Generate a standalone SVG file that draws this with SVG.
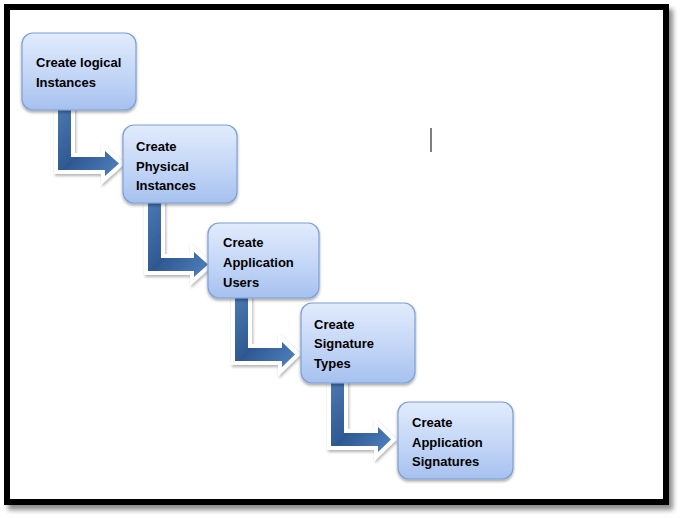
<svg xmlns="http://www.w3.org/2000/svg" width="682" height="518" viewBox="0 0 682 518">
<defs>
  <style>
    .node rect { fill: url(#nodeGrad); stroke: #7c9fd6; stroke-width: 1.2; filter: url(#nshadow); }
    .node text { font-family: "Liberation Sans", Arial, sans-serif; font-weight: bold; font-size: 13px; fill: #000; }
    .arrow { fill: url(#arrowGrad); stroke: #ffffff; stroke-width: 8; stroke-linejoin: miter; paint-order: stroke; filter: url(#ashadow); }
    .frame { fill: #ffffff; stroke: #000000; stroke-width: 6; filter: url(#fshadow); }
  </style>
  <linearGradient id="nodeGrad" x1="0" y1="0" x2="0" y2="1">
    <stop offset="0" stop-color="#e1ebfc"/>
    <stop offset="0.5" stop-color="#c6d8f7"/>
    <stop offset="1" stop-color="#a6c1ef"/>
  </linearGradient>
  <linearGradient id="arrowGrad" x1="0" y1="0" x2="1" y2="1">
    <stop offset="0" stop-color="#4b78b2"/>
    <stop offset="0.5" stop-color="#2e5891"/>
    <stop offset="1" stop-color="#5283c0"/>
  </linearGradient>
  <filter id="nshadow" x="-10%" y="-10%" width="125%" height="130%">
    <feGaussianBlur in="SourceAlpha" stdDeviation="1.5"/>
    <feOffset dx="0" dy="2" result="b"/>
    <feComponentTransfer><feFuncA type="linear" slope="0.35"/></feComponentTransfer>
    <feMerge><feMergeNode/><feMergeNode in="SourceGraphic"/></feMerge>
  </filter>
  <filter id="ashadow" x="-20%" y="-20%" width="150%" height="150%">
    <feGaussianBlur in="SourceAlpha" stdDeviation="1.5"/>
    <feOffset dx="1" dy="2" result="b"/>
    <feComponentTransfer><feFuncA type="linear" slope="0.3"/></feComponentTransfer>
    <feMerge><feMergeNode/><feMergeNode in="SourceGraphic"/></feMerge>
  </filter>
  <filter id="fshadow" x="-5%" y="-5%" width="112%" height="115%">
    <feGaussianBlur in="SourceAlpha" stdDeviation="2.5"/>
    <feOffset dx="4" dy="5" result="b"/>
    <feComponentTransfer><feFuncA type="linear" slope="0.45"/></feComponentTransfer>
    <feMerge><feMergeNode/><feMergeNode in="SourceGraphic"/></feMerge>
  </filter>
</defs>

<rect class="frame" x="7" y="7" width="659" height="495"/>

<line x1="431" y1="128" x2="431" y2="152" stroke="#555555" stroke-width="1.5"/>

<g id="connectors">
  <path class="arrow" d="M58,110 L71,110 L71,157 L105,157 L105,151 L119,163.5 L105,176 L105,170 L58,170 Z"/>
  <path class="arrow" d="M148,203 L161,203 L161,258 L194,258 L194,252 L208,264.5 L194,277 L194,271 L148,271 Z"/>
  <path class="arrow" d="M235,298 L248,298 L248,348 L282,348 L282,342 L295,354.5 L282,367 L282,361 L235,361 Z"/>
  <path class="arrow" d="M331,383 L344,383 L344,433 L378,433 L378,427 L391,439.5 L378,452 L378,446 L331,446 Z"/>
</g>

<g id="node1" class="node">
  <rect x="22" y="33" width="114" height="77" rx="11"/>
  <text x="36" y="67">Create logical</text>
  <text x="36" y="87">Instances</text>
</g>
<g id="node2" class="node">
  <rect x="123" y="125" width="114" height="78" rx="11"/>
  <text x="136" y="151">Create</text>
  <text x="136" y="171">Physical</text>
  <text x="136" y="190">Instances</text>
</g>
<g id="node3" class="node">
  <rect x="208" y="223" width="111" height="75" rx="11"/>
  <text x="223" y="247">Create</text>
  <text x="223" y="267">Application</text>
  <text x="223" y="287">Users</text>
</g>
<g id="node4" class="node">
  <rect x="301" y="303" width="114" height="80" rx="11"/>
  <text x="314" y="329">Create</text>
  <text x="314" y="348">Signature</text>
  <text x="314" y="368">Types</text>
</g>
<g id="node5" class="node">
  <rect x="398" y="402" width="115" height="77" rx="11"/>
  <text x="412" y="427">Create</text>
  <text x="412" y="447">Application</text>
  <text x="412" y="466">Signatures</text>
</g>
</svg>
